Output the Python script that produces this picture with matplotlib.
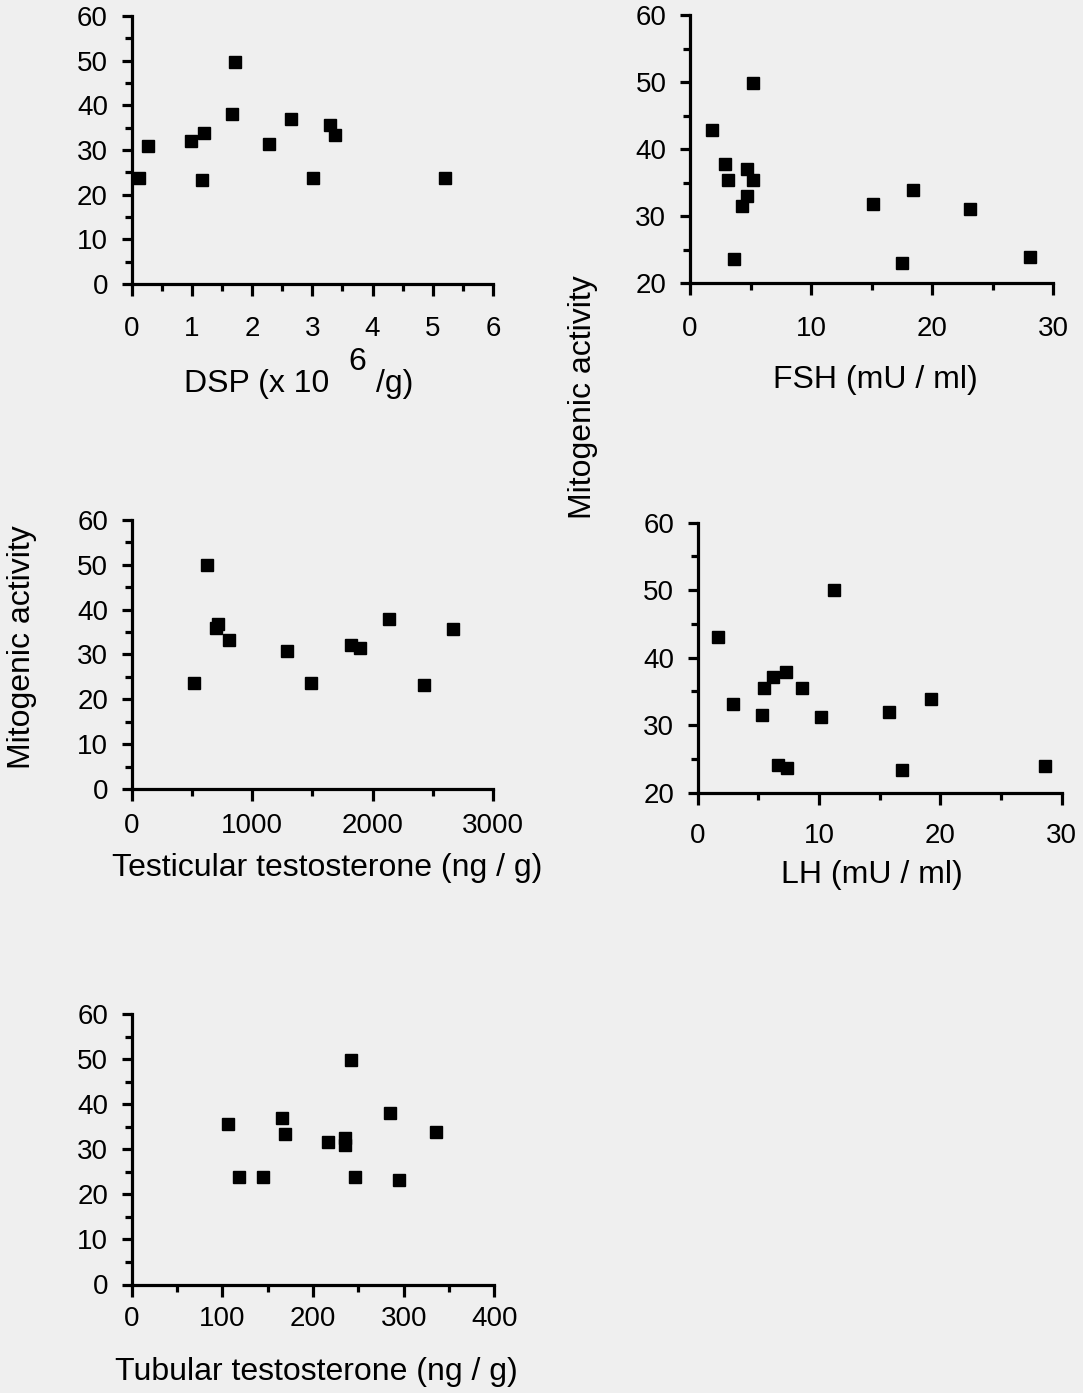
import matplotlib
matplotlib.use("Agg")
import matplotlib.pyplot as plt
from matplotlib.ticker import MultipleLocator

W, H, DPI = 1083, 1393, 100
BG = "#efefef"
FONT = "Liberation Sans"

y_label = "Mitogenic activity"

# Daily sperm production (x10^6 / g) vs mitogenic activity
dsp_x = [0.13, 0.27, 0.98, 1.21, 1.17, 1.67, 1.71, 2.29, 2.64, 3.01, 3.29, 3.37, 5.20]
dsp_y = [23.8, 30.9, 32.0, 33.8, 23.3, 38.0, 49.6, 31.4, 36.9, 23.8, 35.5, 33.3, 23.8]

# FSH (mU/ml)
fsh_x = [1.8, 2.9, 3.1, 3.6, 4.3, 4.7, 4.7, 5.2, 5.2, 15.1, 17.5, 18.4, 23.1, 28.1]
fsh_y = [42.9, 37.7, 35.3, 23.6, 31.5, 33.0, 37.0, 35.3, 49.9, 31.8, 23.0, 33.9, 31.0, 23.9]

# Testicular testosterone (ng/g)
tt_x = [517, 628, 719, 700, 807, 1286, 1485, 1825, 1894, 2134, 2425, 2665]
tt_y = [23.7, 49.9, 36.8, 35.8, 33.2, 30.8, 23.7, 32.1, 31.5, 38.0, 23.1, 35.7]

# LH (mU/ml)
lh_x = [1.7, 2.9, 5.3, 5.5, 6.2, 7.3, 6.6, 7.4, 8.6, 10.2, 11.2, 15.8, 16.8, 19.2, 28.6]
lh_y = [43.1, 33.1, 31.5, 35.5, 37.2, 37.9, 24.1, 23.7, 35.5, 31.2, 50.1, 32.0, 23.3, 33.9, 24.0]

# Tubular testosterone (ng/g)
tub_x = [106, 118, 145, 166, 169, 217, 235, 235, 242, 246, 285, 295, 336]
tub_y = [35.7, 23.8, 23.8, 36.9, 33.3, 31.6, 32.4, 30.9, 49.9, 23.8, 38.1, 23.1, 33.9]

plt.rcParams["font.family"] = [FONT, "DejaVu Sans"]

fig = plt.figure(figsize=(W / DPI, H / DPI), dpi=DPI, facecolor=BG)


def fx(px):
    return px / W


def fy(py):
    return 1 - py / H


TICK = 20
LW = 2.3


def panel(rect, xs, ys, xlim, ylim, xmaj, xmin, ymaj, ymin, xpad):
    left, top, right, bottom = rect
    ax = fig.add_axes([fx(left), fy(bottom), (right - left) / W, (bottom - top) / H])
    ax.set_facecolor("none")
    ax.plot(xs, ys, linestyle="none", marker="s", markersize=9.2,
            color="black", clip_on=False)
    ax.set_xlim(*xlim)
    ax.set_ylim(*ylim)
    for s in ("top", "right"):
        ax.spines[s].set_visible(False)
    for s in ("left", "bottom"):
        ax.spines[s].set_linewidth(LW)
    ax.xaxis.set_major_locator(MultipleLocator(xmaj))
    ax.xaxis.set_minor_locator(MultipleLocator(xmin))
    ax.yaxis.set_major_locator(MultipleLocator(ymaj))
    ax.yaxis.set_minor_locator(MultipleLocator(ymin))
    ax.tick_params(axis="x", which="major", direction="out", length=8.5,
                   width=LW, labelsize=TICK, pad=xpad)
    ax.tick_params(axis="x", which="minor", direction="out", length=5, width=LW)
    ax.tick_params(axis="y", which="major", direction="out", length=7,
                   width=LW, labelsize=TICK, pad=10)
    ax.tick_params(axis="y", which="minor", direction="out", length=5, width=LW)
    return ax


panel((131.5, 16, 493, 284), dsp_x, dsp_y, (0, 6), (0, 60), 1, 0.5, 10, 5, 14.5)
panel((690, 15, 1053, 283), fsh_x, fsh_y, (0, 30), (20, 60), 10, 5, 10, 5, 15.5)
panel((131.7, 520, 493, 789), tt_x, tt_y, (0, 3000), (0, 60), 1000, 500, 10, 5, 9)
panel((697.7, 522.7, 1061.7, 792.7), lh_x, lh_y, (0, 30), (20, 60), 10, 5, 10, 5, 13)
panel((131.7, 1014, 494.3, 1284.5), tub_x, tub_y, (0, 400), (0, 60), 100, 50, 10, 5, 7)

LAB = 23
# x-axis titles
fig.text(fx(257), fy(392), "DSP (x 10", fontsize=LAB, ha="center", va="baseline")
fig.text(fx(357), fy(370), "6", fontsize=LAB, ha="center", va="baseline")
fig.text(fx(395), fy(392), "/g)", fontsize=LAB, ha="center", va="baseline")
fig.text(fx(875), fy(388), "FSH (mU / ml)", fontsize=LAB, ha="center", va="baseline")
fig.text(fx(327), fy(876), "Testicular testosterone (ng / g)", fontsize=LAB,
         ha="center", va="baseline")
fig.text(fx(872), fy(883), "LH (mU / ml)", fontsize=LAB, ha="center", va="baseline")
fig.text(fx(316), fy(1380), "Tubular testosterone (ng / g)", fontsize=LAB,
         ha="center", va="baseline")

# shared y-axis titles
fig.text(fx(583), fy(397), y_label, fontsize=LAB, rotation=90, ha="center", va="center")
fig.text(fx(22), fy(647), y_label, fontsize=LAB, rotation=90, ha="center", va="center")

fig.savefig("out.png", dpi=DPI, facecolor=BG)
